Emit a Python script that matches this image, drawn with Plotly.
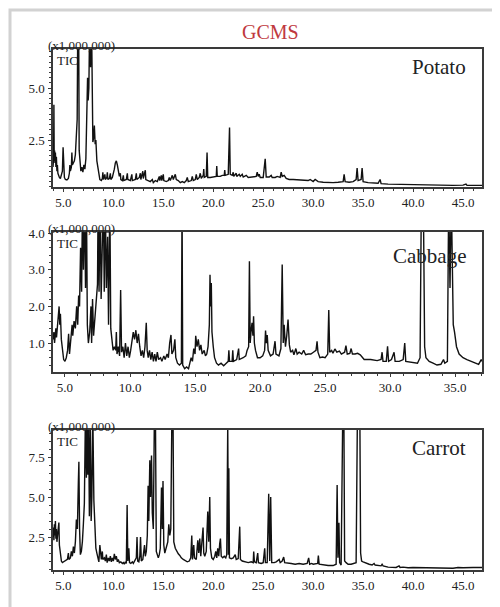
import plotly.graph_objects as go

# ---------------- data (retention time in min, TIC in x1,000,000) ----------------
potato_rt = [3.96, 4.02, 4.05, 4.08, 4.12, 4.16, 4.2, 4.25, 4.3, 4.35, 4.4, 4.45, 4.5, 4.6, 4.7, 4.8, 4.9,
             4.97, 5.02, 5.1, 5.2, 5.35, 5.5, 5.6, 5.65, 5.7, 5.8, 5.85, 5.9, 6.0, 6.1, 6.2, 6.3, 6.38,
             6.45, 6.52, 6.58, 6.65, 6.75, 6.85, 6.95, 7.05, 7.15, 7.25, 7.32, 7.38, 7.42, 7.48, 7.55,
             7.65, 7.72, 7.8, 7.88, 7.95, 8.02, 8.1, 8.18, 8.25, 8.35, 8.45, 8.55, 8.65, 8.8, 8.9, 8.95,
             9.0, 9.15, 9.2, 9.35, 9.4, 9.45, 9.6, 9.7, 9.75, 9.9, 10.0, 10.1, 10.2, 10.3, 10.4, 10.5,
             10.6, 10.7, 10.75, 10.9, 11.0, 11.05, 11.3, 11.4, 11.45, 11.7, 11.85, 11.9, 12.2, 12.3,
             12.35, 12.6, 12.7, 12.75, 12.95, 13.0, 13.2, 13.25, 13.5, 13.7, 13.9, 14.0, 14.2, 14.4,
             14.6, 14.65, 14.8, 14.85, 15.0, 15.05, 15.3, 15.5, 15.6, 15.7, 15.9, 16.0, 16.2, 16.3,
             16.5, 16.7, 16.9, 17.1, 17.3, 17.4, 17.5, 17.8, 17.9, 18.0, 18.2, 18.3, 18.4, 18.6, 18.7,
             18.8, 19.0, 19.05, 19.1, 19.3, 19.38, 19.45, 19.7, 20.0, 20.3, 20.35, 20.4, 20.7, 20.9,
             21.1, 21.15, 21.2, 21.5, 21.63, 21.7, 21.9, 22.0, 22.05, 22.3, 22.35, 22.6, 22.7, 22.9,
             23.0, 23.3, 23.5, 23.8, 24.0, 24.3, 24.4, 24.5, 24.6, 24.7, 25.0, 25.2, 25.3, 25.6, 25.8,
             25.9, 26.2, 26.4, 26.7, 26.8, 26.9, 27.1, 27.3, 27.6, 28.0, 28.5, 29.0, 29.5, 29.7, 30.0,
             30.2, 30.5, 31.0, 31.5, 32.0, 32.5, 33.0, 33.1, 33.2, 33.6, 34.0, 34.3, 34.4, 34.5, 34.8,
             34.9, 35.0, 35.5, 36.0, 36.5, 36.7, 36.8, 37.5, 38.5, 39.0, 40.0, 42.0, 43.0, 44.0, 45.0,
             45.3, 45.4, 46.9]
potato_tic = [1.2, 1.6, 4.2, 1.5, 2.0, 1.4, 1.9, 1.2, 1.7, 1.0, 1.3, 0.9, 0.8, 0.7, 0.65, 0.8, 1.0,
              2.15, 0.9, 0.7, 0.6, 0.58, 0.65, 0.9, 1.3, 1.0, 1.2, 1.9, 1.3, 1.4, 1.5, 1.8, 2.8, 3.5,
              9.0, 9.0, 2.0, 1.3, 1.0, 1.2, 0.95, 1.3, 1.1, 1.6, 3.0, 4.2, 5.5, 4.4, 5.0,
              9.0, 6.0, 9.0, 3.5, 2.4, 2.6, 3.2, 2.3, 2.5, 1.5, 1.2, 0.7, 0.6, 0.55, 0.65, 0.95,
              0.6, 0.85, 0.6, 0.7, 0.95, 0.6, 0.65, 0.9, 0.6, 0.7, 0.85, 1.1, 1.4, 1.5, 1.3, 1.0,
              0.75, 0.9, 0.6, 0.55, 0.8, 0.55, 0.6, 0.9, 0.6, 0.55, 0.85, 0.55, 0.6, 0.9,
              0.6, 0.7, 0.9, 0.6, 1.0, 0.65, 1.05, 0.6, 0.55, 0.5, 0.6, 0.45, 0.55, 0.5,
              0.75, 0.55, 0.8, 0.55, 0.85, 0.55, 0.5, 0.55, 0.7, 0.55, 0.8, 0.6, 0.85, 0.6,
              0.55, 0.45, 0.5, 0.45, 0.55, 0.7, 0.5, 0.55, 0.75, 0.55, 0.6, 0.85, 0.6, 0.7, 0.9,
              0.65, 0.8, 1.1, 0.7, 0.75, 1.9, 0.7, 0.7, 0.72, 0.75, 1.25, 0.75, 0.75, 0.8,
              0.8, 1.05, 0.8, 0.85, 3.1, 0.85, 0.8, 0.95, 0.75, 0.9, 0.75, 0.85, 0.75, 0.85,
              0.72, 0.8, 0.7, 0.72, 0.7, 0.75, 0.95, 0.75, 0.85, 0.7, 0.7, 1.6, 0.72, 0.72, 0.8,
              0.7, 0.7, 0.75, 0.7, 0.95, 0.75, 0.8, 0.65, 0.6, 0.6, 0.58, 0.55, 0.55, 0.6, 0.5,
              0.6, 0.5, 0.47, 0.45, 0.45, 0.47, 0.5, 0.85, 0.5, 0.47, 0.5, 0.6, 1.15, 0.55, 0.6,
              1.15, 0.5, 0.45, 0.42, 0.42, 0.6, 0.4, 0.38, 0.37, 0.36, 0.33, 0.32, 0.33, 0.32, 0.33,
              0.38, 0.32, 0.32]

cabbage_rt = [4.08, 4.15, 4.2, 4.3, 4.35, 4.45, 4.55, 4.6, 4.65, 4.72, 4.8, 4.9, 5.0, 5.1, 5.2, 5.28,
              5.35, 5.45, 5.55, 5.6, 5.7, 5.8, 5.9, 5.98, 6.05, 6.12, 6.2, 6.28, 6.35, 6.42, 6.5, 6.58,
              6.65, 6.72, 6.8, 6.9, 7.0, 7.05, 7.12, 7.2, 7.3, 7.4, 7.5, 7.55, 7.62, 7.7, 7.78, 7.85,
              7.95, 8.02, 8.1, 8.18, 8.28, 8.35, 8.45, 8.52, 8.6, 8.7, 8.8, 8.9, 8.95, 9.0, 9.1, 9.2,
              9.28, 9.35, 9.45, 9.55, 9.65, 9.75, 9.85, 9.95, 10.05, 10.15, 10.25, 10.35, 10.45, 10.55,
              10.65, 10.75, 10.85, 10.95, 11.05, 11.15, 11.25, 11.32, 11.4, 11.5, 11.6, 11.7, 11.8,
              11.9, 12.0, 12.1, 12.2, 12.35, 12.45, 12.6, 12.7, 12.85, 12.95, 13.05, 13.15, 13.22,
              13.35, 13.45, 13.52, 13.65, 13.8, 13.95, 14.0, 14.05, 14.2, 14.35, 14.5, 14.6, 14.7,
              14.8, 14.9, 15.0, 15.05, 15.15, 15.25, 15.35, 15.45, 15.55, 15.7, 15.8, 15.9, 16.0,
              16.1, 16.15, 16.2, 16.25, 16.3, 16.4, 16.5, 16.65, 16.8, 17.0, 17.2, 17.4, 17.55, 17.6,
              17.65, 17.85, 17.9, 17.95, 18.2, 18.35, 18.4, 18.7, 18.9, 19.0, 19.12, 19.18, 19.24,
              19.3, 19.38, 19.45, 19.5, 19.56, 19.65, 19.8, 20.0, 20.2, 20.35, 20.42, 20.48, 20.55,
              20.62, 20.8, 21.0, 21.15, 21.22, 21.45, 21.6, 21.7, 21.78, 21.85, 21.95, 22.05, 22.15,
              22.25, 22.35, 22.5, 22.6, 22.75, 22.85, 23.0, 23.2, 23.35, 23.5, 23.7, 23.9, 24.1,
              24.3, 24.38, 24.45, 24.6, 24.8, 25.0, 25.2, 25.28, 25.35, 25.5, 25.6, 25.75, 25.9,
              26.1, 26.25, 26.5, 26.6, 26.7, 26.9, 27.0, 27.1, 27.3, 27.5, 27.7, 28.0, 28.5, 29.0,
              29.3, 29.38, 29.45, 29.7, 29.8, 29.88, 30.1, 30.3, 30.38, 30.7, 31.0, 31.12, 31.2,
              31.5, 31.8, 32.1, 32.3, 32.4, 32.55, 32.65, 32.75, 33.0, 33.3, 33.6, 33.9, 34.1, 34.2,
              34.4, 34.5, 34.6, 34.7, 34.85, 34.95, 35.1, 35.3, 35.6, 35.9, 36.2, 36.5, 36.8, 37.0,
              37.08]
cabbage_tic = [1.1, 1.3, 1.0, 1.4, 1.15, 1.6, 2.0, 1.5, 1.8, 1.1, 0.8, 0.55, 0.5, 0.6, 0.8, 1.25,
               0.7, 1.1, 1.5, 1.2, 1.6, 1.4, 2.0, 1.5, 2.3, 2.0, 3.6, 2.4, 5.0, 3.0, 5.0, 2.5,
               5.0, 1.5, 1.0, 1.3, 2.0, 1.0, 2.2, 1.2, 1.6, 2.0, 2.6, 5.0, 2.4, 5.0, 2.2, 3.6,
               5.0, 2.4, 5.0, 2.5, 3.9, 1.5, 5.0, 1.4, 1.1, 0.8, 0.9, 0.8, 1.3, 0.7, 0.9, 0.65,
               2.45, 0.75, 0.9, 0.6, 1.0, 0.65, 0.9, 0.6, 0.8, 1.0, 1.3, 1.1, 1.35, 1.0,
               1.25, 0.9, 0.65, 0.8, 0.6, 0.9, 1.55, 0.8, 0.6, 0.8, 0.55, 0.75, 0.5,
               0.7, 0.5, 0.75, 0.55, 0.6, 0.5, 0.65, 0.55, 0.7, 0.6, 1.0, 1.22, 0.7,
               0.8, 1.1, 0.6, 0.45, 0.4, 0.45, 5.0, 0.4, 0.3, 0.35, 0.3, 0.45, 0.6,
               0.5, 0.85, 0.7, 1.2, 0.9, 1.1, 0.8, 0.95, 0.7, 0.8, 0.65, 0.7, 0.9,
               1.5, 2.86, 2.0, 2.64, 1.3, 0.9, 0.6, 0.45, 0.4, 0.45, 0.38, 0.45, 0.5, 0.8,
               0.5, 0.5, 0.8, 0.5, 0.55, 0.85, 0.55, 0.6, 0.65, 0.8, 0.9, 3.23, 1.0,
               1.3, 1.55, 1.2, 1.73, 1.0, 0.8, 0.6, 0.6, 0.65, 0.8, 1.34, 1.0, 1.22,
               0.8, 0.65, 0.7, 1.05, 0.7, 0.65, 0.85, 3.14, 1.0, 1.5, 0.9, 1.2, 1.64,
               0.95, 0.75, 0.8, 0.68, 0.85, 0.7, 0.75, 0.7, 0.8, 0.68, 0.7, 0.7, 0.75,
               0.8, 1.05, 0.75, 0.6, 0.62, 0.6, 0.7, 1.9, 0.75, 0.8, 0.72, 0.84, 0.75,
               0.78, 0.7, 0.75, 0.93, 0.7, 0.72, 0.85, 0.7, 0.7, 0.72, 0.68, 0.55, 0.55, 0.52,
               0.55, 0.75, 0.5, 0.5, 0.91, 0.5, 0.55, 0.75, 0.5, 0.5, 0.55, 1.0, 0.5,
               0.48, 0.47, 0.45, 0.6, 5.0, 5.0, 0.9, 0.6, 0.5, 0.45, 0.4, 0.42, 0.55, 0.45,
               0.5, 5.0, 2.5, 5.0, 1.5, 1.3, 0.9, 0.7, 0.6, 0.55, 0.5, 0.45, 0.42, 0.55,
               0.5]

carrot_rt = [3.96, 4.0, 4.05, 4.1, 4.15, 4.2, 4.25, 4.3, 4.35, 4.45, 4.55, 4.6, 4.7, 4.8, 4.9, 5.0, 5.2,
             5.4, 5.5, 5.55, 5.7, 5.8, 5.9, 6.0, 6.1, 6.2, 6.3, 6.4, 6.5, 6.55, 6.62, 6.7, 6.8, 6.9,
             7.0, 7.1, 7.2, 7.3, 7.38, 7.45, 7.52, 7.6, 7.7, 7.78, 7.85, 7.95, 8.05, 8.15, 8.25, 8.35,
             8.45, 8.55, 8.65, 8.72, 8.8, 8.9, 8.95, 9.1, 9.2, 9.3, 9.38, 9.5, 9.6, 9.7, 9.8, 9.9,
             10.0, 10.1, 10.2, 10.3, 10.4, 10.5, 10.6, 10.75, 10.9, 11.0, 11.1, 11.2, 11.3, 11.38,
             11.45, 11.55, 11.62, 11.75, 11.9, 12.0, 12.15, 12.3, 12.37, 12.44, 12.55, 12.65, 12.72,
             12.8, 12.95, 13.05, 13.12, 13.2, 13.3, 13.4, 13.48, 13.55, 13.65, 13.72, 13.82, 13.9,
             14.0, 14.1, 14.22, 14.3, 14.4, 14.5, 14.6, 14.7, 14.82, 14.9, 14.97, 15.05, 15.15,
             15.3, 15.45, 15.55, 15.65, 15.75, 15.85, 15.98, 16.05, 16.2, 16.35, 16.5, 16.65, 16.8,
             17.0, 17.2, 17.4, 17.6, 17.75, 17.85, 17.92, 18.05, 18.12, 18.3, 18.45, 18.55, 18.65,
             18.75, 18.9, 18.98, 19.05, 19.15, 19.3, 19.45, 19.55, 19.65, 19.72, 19.85, 20.0, 20.15,
             20.25, 20.35, 20.45, 20.55, 20.65, 20.72, 20.8, 20.95, 21.1, 21.25, 21.35, 21.45, 21.52,
             21.56, 21.62, 21.8, 22.0, 22.2, 22.3, 22.5, 22.65, 22.72, 22.9, 23.2, 23.5, 23.8, 24.0,
             24.05, 24.12, 24.3, 24.45, 24.52, 24.8, 25.0, 25.15, 25.22, 25.4, 25.55, 25.65, 25.75,
             25.85, 26.1, 26.3, 26.6, 26.7, 26.9, 27.05, 27.15, 27.5, 27.8, 28.2, 28.6, 29.0, 29.4,
             29.55, 29.65, 29.85, 30.0, 30.45, 30.52, 30.6, 31.0, 31.5, 32.0, 32.3, 32.4, 32.48,
             32.58, 32.65, 32.8, 32.95, 33.08, 33.15, 33.3, 33.5, 33.8, 34.0, 34.3, 34.42, 34.55,
             34.68, 34.75, 34.85, 35.0, 35.3, 35.6, 35.9, 36.1, 36.2, 36.5, 36.8, 36.9, 37.0, 37.5,
             38.0, 38.3, 38.6, 38.7, 39.0, 39.5, 40.0, 41.0, 42.0, 43.0, 44.0, 44.5, 45.0, 46.0, 46.9]
carrot_tic = [2.5, 3.1, 2.3, 3.3, 2.6, 3.5, 2.4, 3.0, 2.2, 2.7, 3.4, 2.0, 1.3, 1.0, 0.9, 0.95, 1.0,
              1.1, 1.5, 1.1, 1.2, 1.6, 1.3, 1.9, 1.5, 2.2, 3.6, 3.0, 6.0, 7.2, 3.0, 1.4, 1.6, 2.2,
              3.3, 4.6, 10.0, 6.2, 10.0, 6.4, 10.0, 3.8, 10.0, 3.5, 5.0, 10.0, 4.8, 2.4, 1.8, 1.5,
              1.2, 0.95, 2.0, 1.2, 1.1, 1.6, 1.1, 1.2, 1.0, 1.4, 0.9, 1.2, 1.0, 1.3, 0.95, 1.2,
              1.0, 1.45, 1.1, 1.3, 0.95, 1.1, 0.9, 0.95, 0.85, 0.9, 0.8, 0.95, 0.85, 4.5,
              1.0, 1.8, 0.9, 0.85, 0.95, 0.85, 1.0, 1.2, 2.5, 1.0, 0.95, 1.3, 2.5,
              1.0, 1.1, 1.6, 2.0, 1.3, 1.6, 2.6, 5.7, 3.5, 7.3, 5.0, 7.6, 4.0,
              3.0, 9.5, 9.5, 1.6, 1.3, 1.2, 1.4, 1.8, 5.6, 3.0, 6.0, 2.0, 1.5,
              1.8, 2.2, 3.3, 2.6, 3.0, 9.5, 9.5, 2.2, 1.8, 1.6, 1.45, 1.35, 1.2,
              1.1, 1.0, 0.95, 1.0, 1.2, 2.6, 1.1, 2.0, 1.2, 1.1, 2.3, 1.5, 2.4,
              1.3, 2.5, 3.1, 1.5, 1.3, 1.6, 4.1, 2.2, 5.0, 1.8, 1.2, 1.1, 1.3,
              1.6, 1.2, 1.8, 1.3, 2.1, 2.4, 1.3, 1.2, 1.3, 1.2, 1.4, 9.5, 1.4,
              6.8, 1.2, 1.15, 1.2, 1.4, 1.1, 1.15, 3.15, 1.1, 1.0, 0.95, 0.9, 0.95, 0.9,
              1.6, 0.95, 0.9, 1.5, 0.9, 0.85, 0.9, 1.8, 0.9, 0.9, 5.2, 1.0, 5.0,
              0.9, 0.9, 0.95, 1.1, 0.9, 1.0, 1.25, 0.9, 0.85, 0.85, 0.8, 0.85, 0.8, 0.85,
              1.2, 0.8, 0.85, 0.8, 0.85, 1.35, 0.8, 0.75, 0.72, 0.72, 0.8, 5.75, 1.2,
              3.4, 0.9, 0.75, 9.5, 9.5, 1.0, 0.9, 0.8, 0.8, 0.85, 0.9, 9.5, 9.5,
              9.5, 1.5, 1.0, 0.95, 0.85, 0.8, 0.75, 0.85, 0.75, 0.72, 0.7, 0.8, 0.7, 0.62,
              0.62, 0.6, 0.7, 0.6, 0.62, 0.58, 0.6, 0.58, 0.55, 0.55, 0.55, 0.6, 0.58, 0.6, 0.6]

samples = ["Potato", "Cabbage", "Carrot"]
x_ticks_long = [5.0, 10.0, 15.0, 20.0, 25.0, 30.0, 35.0, 40.0, 45.0]
x_ticks_short = [5.0, 10.0, 15.0, 20.0, 25.0, 30.0, 35.0]
y_ticks_potato = [2.5, 5.0]
y_ticks_cabbage = [1.0, 2.0, 3.0, 4.0]
y_ticks_carrot = [2.5, 5.0, 7.5]

# ---------------- figure ----------------
# the page body adds an 8px margin, so the figure is laid out 8px up/left
OFF = 8
W, H = 492, 599
PLOT_L, PLOT_R, PLOT_T, PLOT_B = 53, 482, 49, 570  # page pixel coords of the plotting block
ML = PLOT_L - OFF
MT = PLOT_T - OFF
MR = W - (PLOT_R - OFF)
MB = H - (PLOT_B - OFF)
PH = H - MT - MB
PW = W - ML - MR


def py(p):
    """page pixel row -> paper y"""
    return (PLOT_B - p) / PH


def px(p):
    """page pixel column -> paper x"""
    return (p - PLOT_L) / PW


SERIF = "Liberation Serif, Times New Roman, serif"
LINE = dict(color="#111111", width=1.4)

fig = go.Figure()
series = [(potato_rt, potato_tic), (cabbage_rt, cabbage_tic), (carrot_rt, carrot_tic)]
for i, (xs, ys) in enumerate(series):
    sfx = "" if i == 0 else str(i + 1)
    fig.add_trace(go.Scatter(x=xs, y=ys, mode="lines", line=LINE,
                             xaxis="x" + sfx, yaxis="y" + sfx,
                             showlegend=False, hoverinfo="skip"))

domains = [(py(187), py(49)), (py(372), py(232)), (py(570), py(430))]
xranges = [[3.96, 46.9], [4.08, 37.06], [3.96, 46.9]]
yranges = [[0.24, 6.88], [0.21, 4.03], [0.44, 9.19]]
xticks = [x_ticks_long, x_ticks_short, x_ticks_long]
yticks = [y_ticks_potato, y_ticks_cabbage, y_ticks_carrot]
yminor = [0.25, 0.2, 0.5]

axis_common = dict(showline=True, mirror=True, linecolor="#3a3a3a", linewidth=1.5,
                   showgrid=False, zeroline=False, ticks="outside", ticklen=3,
                   tickcolor="#3a3a3a", tickfont=dict(family=SERIF, size=13, color="#222222"),
                   tickformat=".1f")

for i in range(3):
    sfx = "" if i == 0 else str(i + 1)
    fig.layout["xaxis" + sfx] = dict(axis_common, domain=[0, 1], anchor="y" + sfx,
                                     range=xranges[i], tickmode="array", tickvals=xticks[i],
                                     minor=dict(dtick=1.0, ticklen=2, ticks="outside",
                                                tickcolor="#3a3a3a"))
    fig.layout["yaxis" + sfx] = dict(axis_common, domain=list(domains[i]), anchor="x" + sfx,
                                     range=yranges[i], tickmode="array", tickvals=yticks[i],
                                     ticklabelstandoff=1,
                                     minor=dict(dtick=yminor[i], ticklen=2, ticks="outside",
                                                tickcolor="#3a3a3a"))

annotations = [dict(text="GCMS", x=px(270), y=py(32), xref="paper", yref="paper",
                    xanchor="center", yanchor="middle", showarrow=False,
                    font=dict(family=SERIF, size=20, color="#c0393e"))]
tops = [49, 232, 430]
name_y = [67, 256, 448]
for i, name in enumerate(samples):
    annotations.append(dict(text="(x1,000,000)", x=px(46), y=py(tops[i] - 4), xref="paper",
                            yref="paper", xanchor="left", yanchor="middle", showarrow=False,
                            font=dict(family=SERIF, size=13, color="#222222")))
    annotations.append(dict(text="TIC", x=px(55), y=py(tops[i] + 11), xref="paper",
                            yref="paper", xanchor="left", yanchor="middle", showarrow=False,
                            font=dict(family=SERIF, size=13, color="#222222")))
    annotations.append(dict(text=name, x=px(468), y=py(name_y[i]), xref="paper", yref="paper",
                            xanchor="right", yanchor="middle", showarrow=False,
                            font=dict(family=SERIF, size=21, color="#222222")))

fig.update_layout(
    width=W, height=H, autosize=False,
    margin=dict(l=ML, r=MR, t=MT, b=MB, pad=0),
    paper_bgcolor="white", plot_bgcolor="white",
    annotations=annotations,
    shapes=[dict(type="rect", xref="paper", yref="paper",
                 x0=px(10), x1=px(505), y0=py(615), y1=py(10),
                 line=dict(color="#d2d2d2", width=3), layer="below")],
)

fig.write_html("out.html")
